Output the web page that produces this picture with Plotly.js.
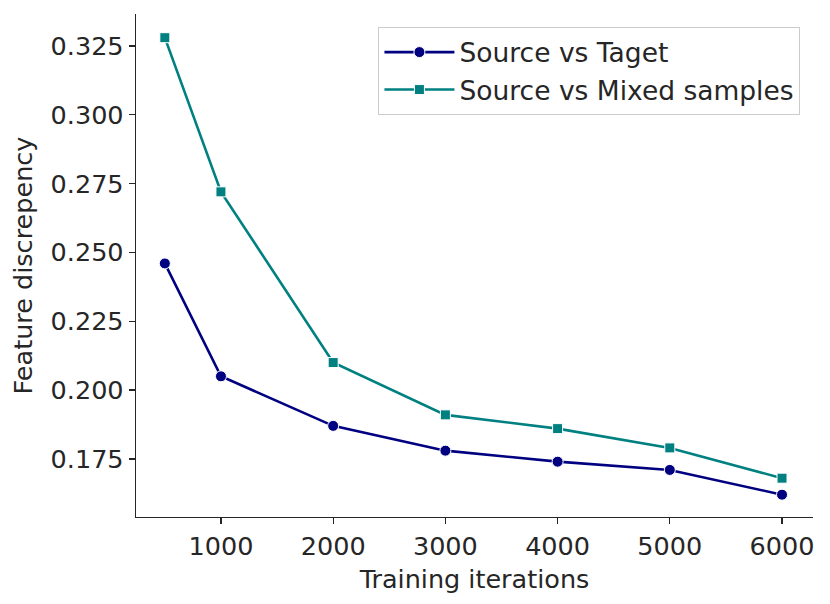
<!DOCTYPE html>
<html>
<head>
<meta charset="utf-8">
<script src="https://cdn.plot.ly/plotly-3.0.1.min.js"></script>
<style>html,body{margin:0;padding:0;background:#fff;}#chart{width:830px;height:604px;}</style>
</head>
<body>
<div id="chart"></div>
<script>
const iterations = [500, 1000, 2000, 3000, 4000, 5000, 6000];
const sourceVsTarget = [0.246, 0.205, 0.187, 0.178, 0.174, 0.171, 0.162];
const sourceVsMixed = [0.328, 0.272, 0.210, 0.191, 0.186, 0.179, 0.168];
const seriesNames = ["Source vs Taget", "Source vs Mixed samples"];
const xTicks = [1000, 2000, 3000, 4000, 5000, 6000];
const yTicks = [0.175, 0.200, 0.225, 0.250, 0.275, 0.300, 0.325];

const font = {family: "DejaVu Sans", size: 25.5, color: "#262626"};
const legendFont = {family: "DejaVu Sans", size: 26.5, color: "#262626"};
const traces = [
  {x: iterations, y: sourceVsTarget, name: seriesNames[0], legendgroup: "a", mode: "lines+markers", type: "scatter",
   line: {color: "#000080", width: 2.6}, marker: {symbol: "circle", size: 11, color: "#000080", line: {color: "#ffffff", width: 1}}},
  {x: iterations, y: sourceVsMixed, name: seriesNames[1], legendgroup: "b", mode: "lines+markers", type: "scatter",
   line: {color: "#008080", width: 2.6}, marker: {symbol: "square", size: 10, color: "#008080", line: {color: "#ffffff", width: 1}}}
];
const layout = {
  width: 830, height: 604,
  margin: {l: 136, r: 17, t: 14, b: 87},
  paper_bgcolor: "#ffffff", plot_bgcolor: "#ffffff",
  font: font,
  showlegend: true,
  legend: {x: 0.981, y: 0.974, xanchor: "right", yanchor: "top", bgcolor: "#ffffff",
           bordercolor: "#cccccc", borderwidth: 1.3, font: legendFont, itemwidth: 70, tracegroupgap: 0},
  xaxis: {range: [243, 6276], tickvals: xTicks, ticktext: xTicks.map(String), showgrid: false, zeroline: false,
          showline: true, linecolor: "#262626", linewidth: 1.3, ticks: "outside", ticklen: 6, tickwidth: 1.3,
          tickcolor: "#262626", tickfont: font,
          title: {text: "Training iterations", font: font, standoff: 10}},
  yaxis: {range: [0.1539, 0.3366], tickvals: yTicks, ticktext: yTicks.map(v => v.toFixed(3)), showgrid: false, zeroline: false,
          showline: true, linecolor: "#262626", linewidth: 1.3, ticks: "outside", ticklen: 6, tickwidth: 1.3,
          tickcolor: "#262626", tickfont: font,
          title: {text: "Feature discrepency", font: font, standoff: 10}}
};
Plotly.newPlot("chart", traces, layout, {displayModeBar: false, staticPlot: true});
</script>
</body>
</html>
